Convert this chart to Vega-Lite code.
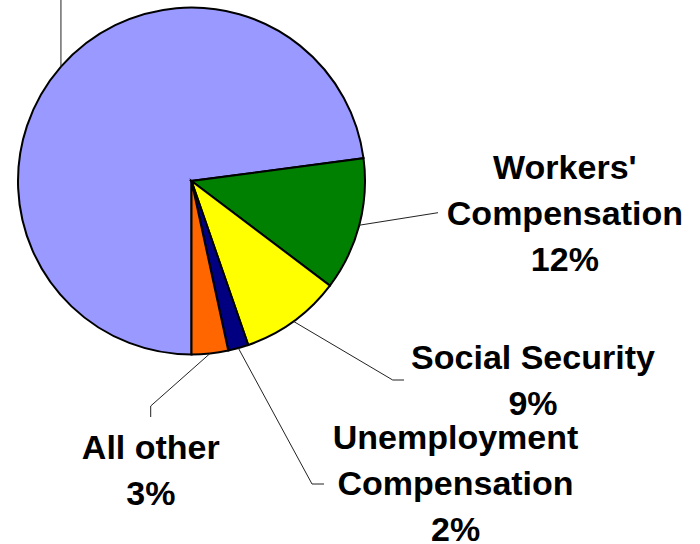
{
  "$schema": "https://vega.github.io/schema/vega-lite/v6.json",
  "width": 383,
  "height": 362,
  "autosize": {"type": "none"},
  "padding": {"left": 0, "top": 0, "right": 317, "bottom": 182},
  "background": "white",
  "config": {
    "view": {"stroke": null},
    "text": {
      "font": "Liberation Sans",
      "fontSize": 34,
      "fontWeight": "bold",
      "lineHeight": 46,
      "align": "center",
      "baseline": "middle",
      "color": "black"
    }
  },
  "datasets": {
    "shares": [
      {"id": 1, "name": "Private sources", "value": 72.9},
      {"id": 2, "name": "Workers' Compensation", "value": 12.4},
      {"id": 3, "name": "Social Security", "value": 9.4},
      {"id": 4, "name": "Unemployment Compensation", "value": 1.9},
      {"id": 5, "name": "All other", "value": 3.4}
    ],
    "leaders": [
      {"slice": "Private sources", "step": 1, "x": -0.7524, "y": 0.6587},
      {"slice": "Private sources", "step": 2, "x": -0.7524, "y": 1.072},
      {"slice": "Workers' Compensation", "step": 1, "x": 0.967, "y": -0.2548},
      {"slice": "Workers' Compensation", "step": 2, "x": 1.4207, "y": -0.1827},
      {"slice": "Social Security", "step": 1, "x": 0.5878, "y": -0.809},
      {"slice": "Social Security", "step": 2, "x": 1.1597, "y": -1.147},
      {"slice": "Social Security", "step": 3, "x": 1.2248, "y": -1.147},
      {"slice": "Unemployment Compensation", "step": 1, "x": 0.2699, "y": -0.9629},
      {"slice": "Unemployment Compensation", "step": 2, "x": 0.6945, "y": -1.7464},
      {"slice": "Unemployment Compensation", "step": 3, "x": 0.7637, "y": -1.7464},
      {"slice": "All other", "step": 1, "x": 0.1066, "y": -0.9943},
      {"slice": "All other", "step": 2, "x": -0.2352, "y": -1.2968},
      {"slice": "All other", "step": 3, "x": -0.2352, "y": -1.3602}
    ]
  },
  "layer": [
    {
      "data": {"name": "shares"},
      "mark": {"type": "arc", "radius": 173.5, "stroke": "black", "strokeWidth": 2},
      "encoding": {
        "theta": {
          "field": "value",
          "type": "quantitative",
          "stack": true,
          "scale": {"domain": [0, 100], "range": [3.14159265, 9.42477796]}
        },
        "order": {"field": "id", "type": "quantitative"},
        "color": {
          "field": "name",
          "type": "nominal",
          "legend": null,
          "scale": {
            "domain": ["Private sources", "Workers' Compensation", "Social Security", "Unemployment Compensation", "All other"],
            "range": ["#9999FF", "#008000", "#FFFF00", "#000080", "#FF6600"]
          }
        }
      }
    },
    {
      "data": {"name": "leaders"},
      "mark": {"type": "line", "color": "#222222", "strokeWidth": 1, "clip": false},
      "encoding": {
        "x": {"field": "x", "type": "quantitative", "axis": null, "scale": {"domain": [-1.1037, 1.1037], "nice": false, "zero": false}},
        "y": {"field": "y", "type": "quantitative", "axis": null, "scale": {"domain": [-1.0432, 1.0432], "nice": false, "zero": false}},
        "detail": {"field": "slice", "type": "nominal"},
        "order": {"field": "step", "type": "quantitative"}
      }
    },
    {
      "data": {"name": "shares"},
      "transform": [
        {"window": [{"op": "sum", "field": "value", "as": "cum"}], "sort": [{"field": "id"}], "frame": [null, 0]},
        {"calculate": "datum.cum - datum.value / 2", "as": "mid"},
        {"filter": "datum.id === 2"},
        {"calculate": "datum.name + ' ' + format(datum.value, '.0f') + '%'", "as": "label"}
      ],
      "mark": {"type": "text", "radius": 173.5, "dx": 205.6, "dy": -55.9, "lineBreak": " "},
      "encoding": {
        "theta": {"field": "mid", "type": "quantitative", "stack": null},
        "text": {"field": "label", "type": "nominal"}
      }
    },
    {
      "data": {"name": "shares"},
      "transform": [
        {"window": [{"op": "sum", "field": "value", "as": "cum"}], "sort": [{"field": "id"}], "frame": [null, 0]},
        {"calculate": "datum.cum - datum.value / 2", "as": "mid"},
        {"filter": "datum.id === 3"},
        {"calculate": "datum.name + '|' + format(datum.value, '.0f') + '%'", "as": "label"}
      ],
      "mark": {"type": "text", "radius": 173.5, "dx": 239.5, "dy": 37.4, "lineBreak": "|"},
      "encoding": {
        "theta": {"field": "mid", "type": "quantitative", "stack": null},
        "text": {"field": "label", "type": "nominal"}
      }
    },
    {
      "data": {"name": "shares"},
      "transform": [
        {"window": [{"op": "sum", "field": "value", "as": "cum"}], "sort": [{"field": "id"}], "frame": [null, 0]},
        {"calculate": "datum.cum - datum.value / 2", "as": "mid"},
        {"filter": "datum.id === 4"},
        {"calculate": "datum.name + ' ' + format(datum.value, '.0f') + '%'", "as": "label"}
      ],
      "mark": {"type": "text", "radius": 173.5, "dx": 217.2, "dy": 91.2, "lineBreak": " "},
      "encoding": {
        "theta": {"field": "mid", "type": "quantitative", "stack": null},
        "text": {"field": "label", "type": "nominal"}
      }
    },
    {
      "data": {"name": "shares"},
      "transform": [
        {"window": [{"op": "sum", "field": "value", "as": "cum"}], "sort": [{"field": "id"}], "frame": [null, 0]},
        {"calculate": "datum.cum - datum.value / 2", "as": "mid"},
        {"filter": "datum.id === 5"},
        {"calculate": "datum.name + '|' + format(datum.value, '.0f') + '%'", "as": "label"}
      ],
      "mark": {"type": "text", "radius": 173.5, "dx": -59.2, "dy": 95.5, "lineBreak": "|"},
      "encoding": {
        "theta": {"field": "mid", "type": "quantitative", "stack": null},
        "text": {"field": "label", "type": "nominal"}
      }
    }
  ]
}
